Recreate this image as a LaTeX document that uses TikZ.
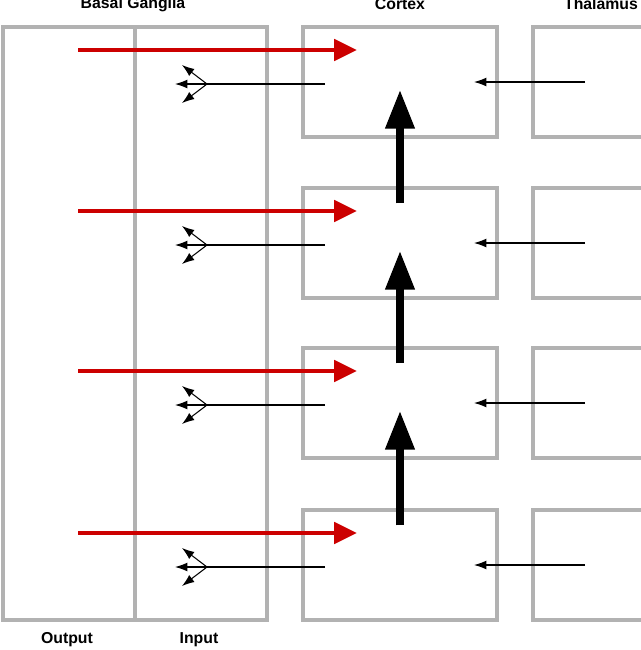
\documentclass[tikz,border=0pt]{standalone}
\usepackage{fontspec}
\setmainfont{Liberation Sans}
\usetikzlibrary{positioning,arrows.meta}
\begin{document}
\begin{tikzpicture}[x=0.02cm,y=-0.02cm,
	boxnode/.style={draw=gray!60, line width=1.8pt, inner sep=0pt},
	labelnode/.style={font=\bfseries\small},
	redarrow/.style={draw=red!80!black, line width=2.5pt, -{Triangle[length=13pt,width=12pt]}},
	thinarrow/.style={draw=black, line width=0.6pt, -{Latex[length=7pt,width=5pt]}},
	thickarrow/.style={draw=black, line width=4pt, -{Triangle[length=22pt,width=16pt]}},
	]
	\useasboundingbox (0,0) rectangle (640,650);
	%Basal ganglia
	\node[boxnode, minimum width=264*0.02cm, minimum height=593*0.02cm] (bg) at (135,323.5) {};
	\draw[draw=gray!60, line width=1.8pt] (bg.north) coordinate (divtop) -- (bg.south) coordinate (divbot);
	\node[labelnode] (bgtitle) at (133,4) {Basal Ganglia};
	\node[labelnode] (outlab) at (67,640) {Output};
	\node[labelnode] (inlab) at (199,640) {Input};
	\node[labelnode] (cxtitle) at (400,4) {Cortex};
	\node[labelnode] (thtitle) at (601,4) {Thalamus};
	%Cortex and thalamus
	\foreach \i/\y in {1/82, 2/243, 3/403, 4/565} {
		\node[boxnode, minimum width=194*0.02cm, minimum height=110*0.02cm] (cx\i) at (400,\y) {};
		\node[boxnode, minimum width=110*0.02cm, minimum height=110*0.02cm] (th\i) at (588,\y) {};
		\coordinate (rs\i) at (78,\y-32);
		\coordinate (re\i) at (357,\y-32);
		\coordinate (ts\i) at (585,\y);
		\coordinate (te\i) at (474,\y);
		\coordinate (cs\i) at (325,\y+2);
		\coordinate (fk\i) at (207,\y+2);
		\draw[redarrow] (rs\i) -- (re\i);
		\draw[thinarrow] (ts\i) -- (te\i);
		\draw[line width=0.6pt] (cs\i) -- (fk\i);
		\draw[thinarrow] (fk\i) -- ++(-25,-19);
		\draw[thinarrow] (fk\i) -- ++(-32,0);
		\draw[thinarrow] (fk\i) -- ++(-25,19);
	}
	\foreach \a/\b in {2/1, 3/2, 4/3} {
		\coordinate (us\b) at ([yshift=-17*0.02cm]cx\a.north);
		\coordinate (ue\b) at ([yshift=-8*0.02cm]cx\b.center);
		\draw[thickarrow] (us\b) -- (ue\b);
	}
\end{tikzpicture}
\end{document}
